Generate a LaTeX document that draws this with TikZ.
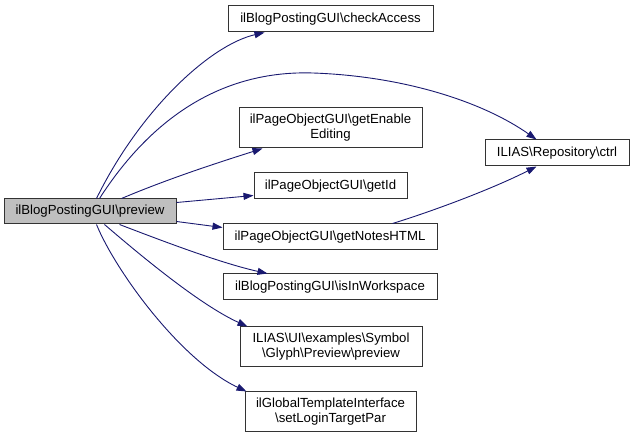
\documentclass[tikz,border=0pt]{standalone}
\usepackage{fontspec}
\setmainfont{Liberation Sans}
\usetikzlibrary{arrows.meta,calc}
\definecolor{edgeblue}{HTML}{191970}
\definecolor{rootgray}{HTML}{BFBFBF}
\begin{document}
\begin{tikzpicture}[x=1pt,y=-1pt,
  fn/.style={draw=black!80,line width=1pt,inner sep=0pt,align=center,
    font=\fontsize{13.2}{15}\selectfont},
  call/.style={draw=edgeblue,line width=0.9pt,
    -{Triangle[length=10pt,width=7pt]}}]
\useasboundingbox (0,0) rectangle (635,438);
\node[fn,fill=rootgray,minimum width=172pt,minimum height=25pt] (preview) at (90,211.5) {ilBlogPostingGUI\textbackslash preview};
\node[fn,minimum width=205pt,minimum height=26pt] (check) at (330.5,19) {ilBlogPostingGUI\textbackslash checkAccess};
\node[fn,minimum width=183pt,minimum height=40pt] (enable) at (330.5,128) {ilPageObjectGUI\textbackslash getEnable\\Editing};
\node[fn,minimum width=153pt,minimum height=26pt] (getid) at (330.5,186) {ilPageObjectGUI\textbackslash getId};
\node[fn,minimum width=214pt,minimum height=26pt] (notes) at (330,237) {ilPageObjectGUI\textbackslash getNotesHTML};
\node[fn,minimum width=214pt,minimum height=26pt] (workspace) at (330,287) {ilBlogPostingGUI\textbackslash isInWorkspace};
\node[fn,minimum width=182pt,minimum height=40pt] (glyph) at (331,347) {ILIAS\textbackslash UI\textbackslash examples\textbackslash Symbol\\\textbackslash Glyph\textbackslash Preview\textbackslash preview};
\node[fn,minimum width=171pt,minimum height=40pt] (login) at (330.5,412) {ilGlobalTemplateInterface\\\textbackslash setLoginTargetPar};
\node[fn,minimum width=144pt,minimum height=26pt] (ctrl) at (557,153) {ILIAS\textbackslash Repository\textbackslash ctrl};

\draw[call] ($(preview.north west)+(93,0)$) .. controls (140,110) and (210,45) .. ($(check.south west)+(37,0)$);
\draw[call] ($(preview.north west)+(96,0)$) .. controls (150,120) and (220,70) .. (313,73) .. controls (400,76) and (480,100) .. ($(ctrl.north west)+(52,0)$);
\draw[call] ($(preview.north west)+(118,0)$) .. controls (170,178) and (220,162) .. ($(enable.south west)+(24,0)$);
\draw[call] ($(preview.north east)+(0,4)$) -- ($(getid.north west)+(0,23)$);
\draw[call] ($(preview.south east)+(0,-3)$) -- ($(notes.north west)+(0,4)$);
\draw[call] ($(preview.south west)+(116,0)$) .. controls (160,240) and (220,263) .. ($(workspace.north west)+(45,0)$);
\draw[call] ($(preview.south west)+(101,0)$) .. controls (140,255) and (200,305) .. ($(glyph.north west)+(8,0)$);
\draw[call] ($(preview.south west)+(93,0)$) .. controls (115,270) and (180,360) .. ($(login.north west)+(2,0)$);
\draw[call] ($(notes.north west)+(170,0)$) .. controls (430,212) and (490,190) .. ($(ctrl.south west)+(52,0)$);
\end{tikzpicture}
\end{document}
